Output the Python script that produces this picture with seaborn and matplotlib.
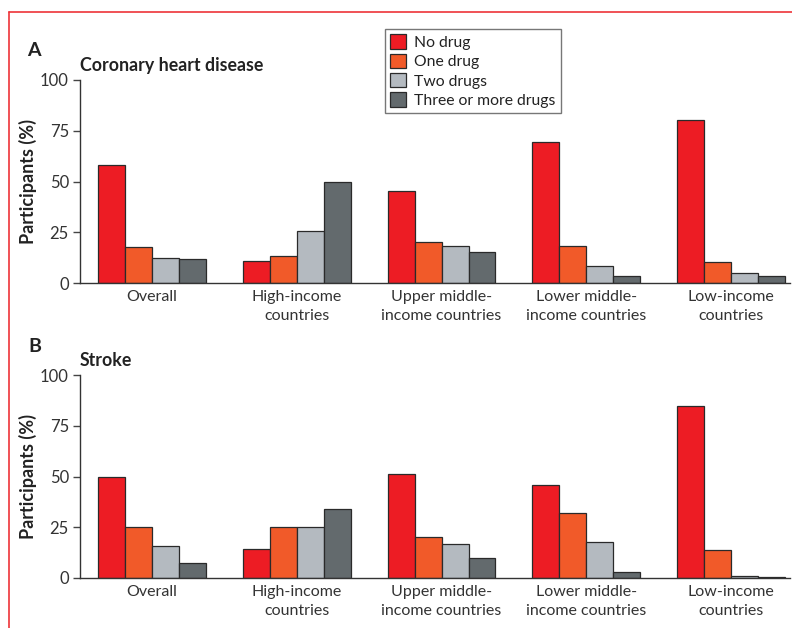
import matplotlib
matplotlib.use("Agg")
import matplotlib.pyplot as plt
import seaborn as sns
import pandas as pd
from matplotlib.lines import Line2D
from matplotlib.patches import Patch

categories = ["Overall", "High-income\ncountries", "Upper middle-\nincome countries",
              "Lower middle-\nincome countries", "Low-income\ncountries"]
drug_groups = ["No drug", "One drug", "Two drugs", "Three or more drugs"]

chd_no_drug = [58, 10.8, 45.3, 69.6, 80.5]
chd_one_drug = [17.5, 13.3, 20, 18.3, 10.3]
chd_two_drugs = [12.3, 25.8, 18.3, 8.6, 5.0]
chd_three_plus = [11.6, 49.6, 15.3, 3.4, 3.3]

stroke_no_drug = [49.9, 14.4, 51.4, 46.0, 84.6]
stroke_one_drug = [25.3, 25.0, 20.2, 32.2, 13.8]
stroke_two_drugs = [15.6, 25.0, 16.6, 17.7, 1.0]
stroke_three_plus = [7.5, 33.8, 9.9, 3.0, 0.4]

yticks = [0, 25, 50, 75, 100]
colors = ["#ED1C24", "#F15A29", "#B4BAC0", "#636A6D"]


def long_df(series):
    rows = []
    for g, vals in zip(drug_groups, series):
        for c, v in zip(categories, vals):
            rows.append({"category": c, "group": g, "value": v})
    return pd.DataFrame(rows)


df_chd = long_df([chd_no_drug, chd_one_drug, chd_two_drugs, chd_three_plus])
df_stroke = long_df([stroke_no_drug, stroke_one_drug, stroke_two_drugs, stroke_three_plus])

sns.set_theme(style="white")
plt.rcParams["font.family"] = ["Lato", "DejaVu Sans"]

fig = plt.figure(figsize=(7.92, 6.28), dpi=100)
W, H = 792, 628

def add_ax(top_px, bottom_px):
    return fig.add_axes([80 / W, 1 - bottom_px / H, (790 - 80) / W, (bottom_px - top_px) / H])

ax1 = add_ax(80, 283)
ax2 = add_ax(375, 578)

for ax, df in [(ax1, df_chd), (ax2, df_stroke)]:
    sns.barplot(data=df, x="category", y="value", hue="group", order=categories,
                hue_order=drug_groups, palette=colors, width=0.745, ax=ax,
                edgecolor="#2a2a2a", linewidth=0.9, legend=False, saturation=1)
    ax.set_ylim(0, 100)
    ax.set_xlim(-0.495, 4.405)
    ax.set_yticks(yticks)
    ax.set_yticklabels([str(t) for t in yticks], fontsize=12, color="#333333")
    ax.tick_params(axis="y", length=5, width=1, color="#444444", pad=3, left=True)
    ax.tick_params(axis="x", length=0, pad=5, labelsize=11.5, labelcolor="#333333")
    for lbl in ax.get_xticklabels():
        lbl.set_linespacing(1.5)
    ax.set_xlabel("")
    ax.set_ylabel("Participants (%)", fontsize=13, fontweight="bold", color="#222222")
    ax.yaxis.set_label_coords(-0.0606, 0.5)
    for s in ["top", "right"]:
        ax.spines[s].set_visible(False)
    for s in ["left", "bottom"]:
        ax.spines[s].set_color("#333333")
        ax.spines[s].set_linewidth(1.0)
    ax.set_facecolor("white")

fig.text(27 / W, 1 - 51 / H, "A", fontsize=14, fontweight="bold", va="center", ha="left", color="#222222")
fig.text(80 / W, 1 - 65 / H, "Coronary heart disease", fontsize=12.8, fontweight="bold",
         va="center", ha="left", color="#222222")
fig.text(28 / W, 1 - 346 / H, "B", fontsize=14, fontweight="bold", va="center", ha="left", color="#222222")
fig.text(80 / W, 1 - 361 / H, "Stroke", fontsize=12.8, fontweight="bold",
         va="center", ha="left", color="#222222")

handles = [Patch(facecolor=c, edgecolor="#2a2a2a", linewidth=0.9) for c in colors]
leg = fig.legend(handles, drug_groups, loc="upper left", bbox_to_anchor=(385 / W, 1 - 29 / H),
                 fontsize=11.3, frameon=True, fancybox=False, edgecolor="#555555",
                 handlelength=1.0, handleheight=1.0, handletextpad=0.5, labelspacing=0.25,
                 borderpad=0.35, borderaxespad=0)
leg.get_frame().set_linewidth(1.0)
for t in leg.get_texts():
    t.set_color("#222222")

fig.add_artist(Line2D([9 / W, 1], [1 - 12 / H, 1 - 12 / H], color="#EE3338", linewidth=1.2,
                      transform=fig.transFigure))
fig.add_artist(Line2D([9 / W, 9 / W], [0, 1 - 12 / H], color="#EE3338", linewidth=1.2,
                      transform=fig.transFigure))

fig.savefig("out.png", dpi=100, facecolor="white")
